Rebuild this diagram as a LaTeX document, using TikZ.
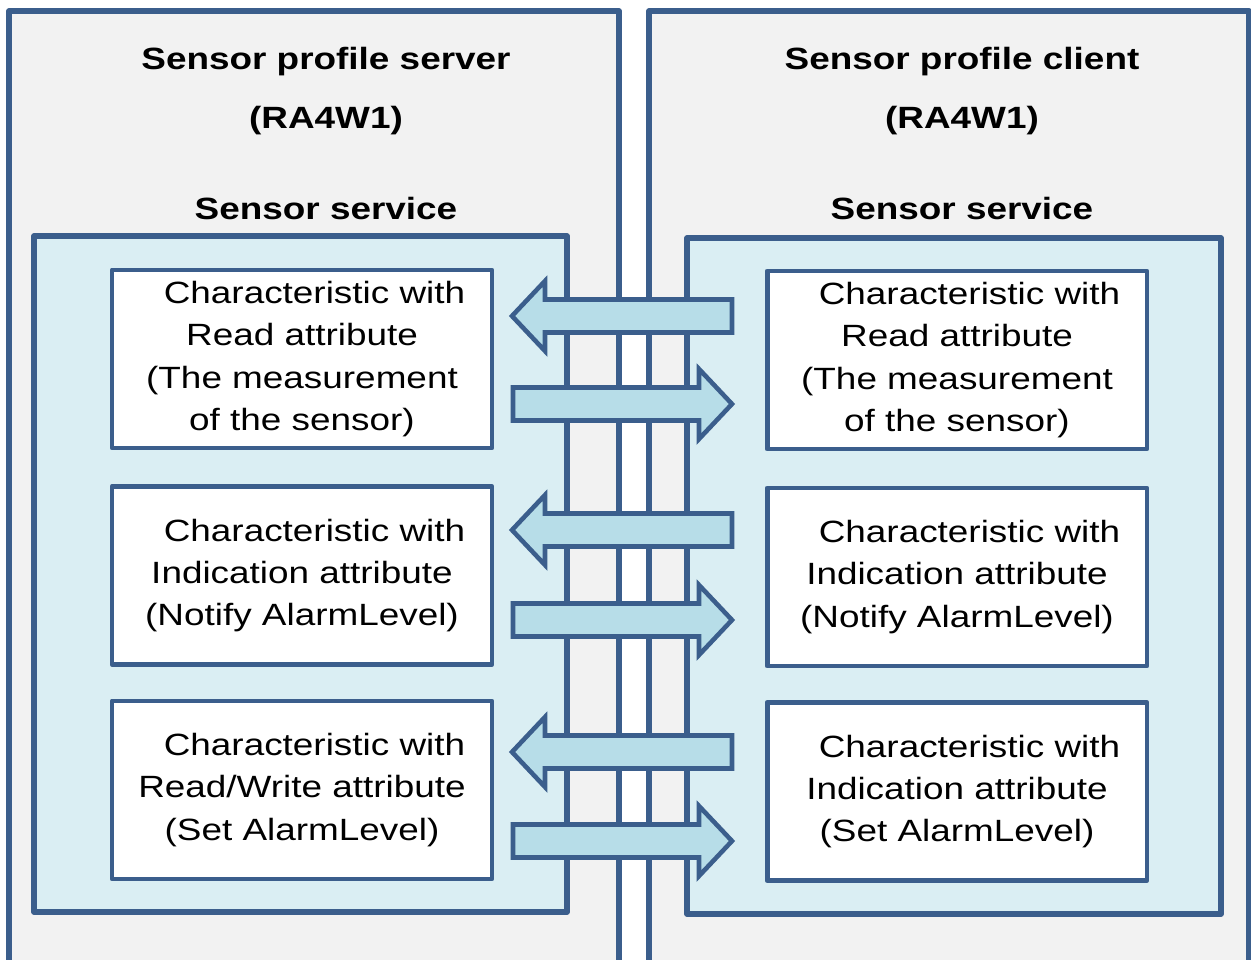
\documentclass[tikz,border=0pt]{standalone}
\usepackage{fontspec}
\setmainfont{Liberation Sans}[FakeStretch=1.2]

\definecolor{edgeblue}{RGB}{59,94,140}
\definecolor{panelgrey}{RGB}{242,242,242}
\definecolor{servicefill}{RGB}{218,238,243}
\definecolor{arrowfill}{RGB}{183,221,232}

\tikzstyle{panel} = [draw=edgeblue, fill=panelgrey, line width=3pt, line join=round]
\tikzstyle{service} = [draw=edgeblue, fill=servicefill, line width=3pt, line join=round]
\tikzstyle{charbox} = [rectangle, minimum width=7.6cm, minimum height=3.56cm, inner sep=0pt, text centered, draw=edgeblue, fill=white, line width=2.8pt, line join=round, align=center, font=\fontsize{17.5}{24.1}\selectfont]
\tikzstyle{title} = [align=center, font=\fontsize{17.5}{33.5}\selectfont\bfseries]
\tikzstyle{blockarrow} = [draw=edgeblue, fill=arrowfill, line width=2.6pt]

\begin{document}
\begin{tikzpicture}[x=0.02cm, y=-0.02cm]

\useasboundingbox (0,0) rectangle (1251,960);
\clip (0,0) rectangle (1251,960);

\draw[panel] (9,11) rectangle (619,1000);
\draw[panel] (649,11) rectangle (1249,1000);
\draw[service] (34,236) rectangle (567,912);
\draw[service] (687,238) rectangle (1221,914);

\node (srvtitle) [title] at (326,91) {Sensor profile server\\(RA4W1)};
\node (clttitle) [title] at (962,91) {Sensor profile client\\(RA4W1)};

\node (srvservice) [title, anchor=base] at (326,219) {Sensor service};
\node (cltservice) [title, anchor=base] at (962,219) {Sensor service};

\node (srvread) [charbox] at (302,359) {\hspace*{0.5cm}Characteristic with\\Read attribute\\(The measurement\\of the sensor)};
\node (srvnotify) [charbox] at (302,575.5) {\hspace*{0.5cm}Characteristic with\\Indication attribute\\(Notify AlarmLevel)};
\node (srvset) [charbox] at (302,790) {\hspace*{0.5cm}Characteristic with\\Read/Write attribute\\(Set AlarmLevel)};

\node (cltread) [charbox] at (957,360) {\hspace*{0.5cm}Characteristic with\\Read attribute\\(The measurement\\of the sensor)};
\node (cltnotify) [charbox] at (957,577) {\hspace*{0.5cm}Characteristic with\\Indication attribute\\(Notify AlarmLevel)};
\node (cltset) [charbox] at (957,791.5) {\hspace*{0.5cm}Characteristic with\\Indication attribute\\(Set AlarmLevel)};

% block arrows between server and client
\foreach \ly/\ry in {316/404, 530/620, 752/841} {
  \draw[blockarrow] (512,\ly) -- (545,\ly-35) -- (545,\ly-16.5) -- (732,\ly-16.5) -- (732,\ly+16.5) -- (545,\ly+16.5) -- (545,\ly+35) -- cycle;
  \draw[blockarrow] (732,\ry) -- (699,\ry-35) -- (699,\ry-16.5) -- (513,\ry-16.5) -- (513,\ry+16.5) -- (699,\ry+16.5) -- (699,\ry+35) -- cycle;
}

\end{tikzpicture}
\end{document}
